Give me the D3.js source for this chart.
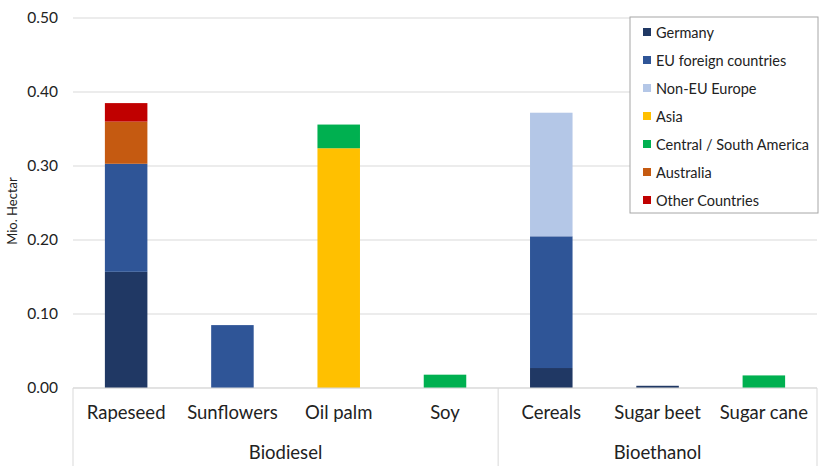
<!DOCTYPE html>
<html>
<head>
<meta charset="utf-8">
<script src="https://cdn.jsdelivr.net/npm/d3@7"></script>
<style>
body{margin:0;background:#fff;font-family:Lato,"Open Sans",sans-serif;}
svg text{fill:#222;}
</style>
</head>
<body>
<div id="chart"></div>
<script>
let categories=["Rapeseed","Sunflowers","Oil palm","Soy","Cereals","Sugar beet","Sugar cane"];
let groups=["Biodiesel","Biodiesel","Biodiesel","Biodiesel","Bioethanol","Bioethanol","Bioethanol"];
let seriesNames=["Germany","EU foreign countries","Non-EU Europe","Asia","Central / South America","Australia","Other Countries"];
let germany=[0.157,0,0,0,0.027,0.003,0];
let euForeign=[0.146,0.085,0,0,0.178,0,0];
let nonEU=[0,0,0,0,0.167,0,0];
let asia=[0,0,0.324,0,0,0,0];
let centralSouthAmerica=[0,0,0.032,0.018,0,0,0.017];
let australia=[0.057,0,0,0,0,0,0];
let otherCountries=[0.025,0,0,0,0,0,0];
let yTicks=[0,0.1,0.2,0.3,0.4,0.5];
let colors=["#203864","#2F5597","#B4C7E7","#FFC000","#00B050","#C55A11","#C00000"];

let width=829, height=474;
let plotLeft=73, plotRight=817, plotTop=18, plotBottom=388;

let rows=categories.map(function(c,i){
    return {cat:c,group:groups[i],Germany:germany[i],"EU foreign countries":euForeign[i],"Non-EU Europe":nonEU[i],
        "Asia":asia[i],"Central / South America":centralSouthAmerica[i],"Australia":australia[i],"Other Countries":otherCountries[i]};
});
let stacked=d3.stack().keys(seriesNames)(rows);

let svg=d3.select("#chart").append("svg").attr("width",width).attr("height",height);

let x=d3.scaleBand().domain(categories).range([plotLeft,plotRight]).paddingInner(0.6).paddingOuter(0.3);
let y=d3.scaleLinear().domain([0,0.5]).range([plotBottom,plotTop]);

// gridlines
svg.append("g").selectAll("line").data(yTicks).enter().append("line")
.attr("x1",plotLeft).attr("x2",plotRight)
.attr("y1",d=>y(d)).attr("y2",d=>y(d))
.attr("stroke","#d9d9d9").attr("stroke-width",1);

// y axis labels
let yAxis=d3.axisLeft(y).tickValues(yTicks).tickFormat(d3.format(".2f")).tickSize(0).tickPadding(15);
let ya=svg.append("g").attr("transform","translate("+plotLeft+",0)").call(yAxis);
ya.select(".domain").remove();
ya.selectAll("text").attr("font-size",15.5).attr("font-family","Lato,sans-serif").attr("fill","#222");

svg.append("text").text("Mio. Hectar")
.attr("transform","translate(17,211) rotate(-90)")
.attr("text-anchor","middle").attr("font-size",13);

// bars
svg.append("g").selectAll("g").data(stacked).enter().append("g")
.attr("fill",(d,i)=>colors[i])
.selectAll("rect").data(d=>d).enter().append("rect")
.attr("x",d=>x(d.data.cat))
.attr("width",x.bandwidth())
.attr("y",d=>y(d[1]))
.attr("height",d=>Math.max(0,y(d[0])-y(d[1])));

// category axis
let xAxis=d3.axisBottom(x).tickSize(0).tickPadding(18);
let xa=svg.append("g").attr("transform","translate(0,"+plotBottom+")").call(xAxis);
xa.select(".domain").remove();
xa.selectAll("text").attr("font-size",18.5).attr("font-family","Lato,sans-serif").attr("fill","#222");

svg.append("line").attr("x1",plotLeft).attr("x2",plotRight).attr("y1",plotBottom).attr("y2",plotBottom)
.attr("stroke","#d9d9d9");

// group separators
let groupNames=Array.from(new Set(groups));
let bounds=[plotLeft];
groupNames.forEach(function(g){
    let cats=categories.filter((c,i)=>groups[i]===g);
    let last=cats[cats.length-1];
    let idx=categories.indexOf(last);
    let next=categories[idx+1];
    bounds.push(next? (x(last)+x.bandwidth()+x(next))/2 : plotRight);
});
svg.append("g").selectAll("line").data(bounds).enter().append("line")
.attr("x1",d=>d).attr("x2",d=>d).attr("y1",plotBottom).attr("y2",466)
.attr("stroke","#d9d9d9");

svg.append("g").selectAll("text").data(groupNames).enter().append("text")
.text(d=>d)
.attr("x",(d,i)=>(bounds[i]+bounds[i+1])/2)
.attr("y",459)
.attr("text-anchor","middle").attr("font-size",18.5);

// legend
let lg=svg.append("g").attr("transform","translate(630,17)");
lg.append("rect").attr("width",188).attr("height",196).attr("fill","#fff").attr("stroke","#a6a6a6");
let items=lg.selectAll("g").data(seriesNames).enter().append("g")
.attr("transform",(d,i)=>"translate(13,"+(15+i*28)+")");
items.append("rect").attr("x",0).attr("y",-4).attr("width",8).attr("height",8).attr("fill",(d,i)=>colors[i]);
items.append("text").text(d=>d).attr("x",13).attr("y",5.5).attr("font-size",14.5);
</script>
</body>
</html>
